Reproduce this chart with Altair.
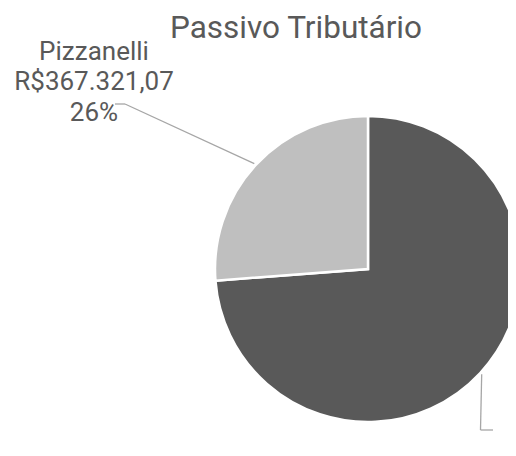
import altair as alt
import pandas as pd

# ---- data ----
categorias = ["Outros", "Pizzanelli"]
valores = [1034000.00, 367321.07]
titulo = "Passivo Tributário"

# ---- layout / style (view coordinates, page = view + 8) ----
CX, CY, R = 360, 261, 153
R_LINHA = 155
cores = ["#595959", "#BFBFBF"]
# only the Pizzanelli label lies inside the picture; the other one is off-canvas
rotulo_pos = {"Pizzanelli": (86, 51.5)}
cotovelo = {"Outros": (472.5, 422), "Pizzanelli": (117, 96)}
fim = {"Outros": (485, 422), "Pizzanelli": (107, 96)}
titulo_pos = (288, 30)


def brl(v):
    s = f"{v:,.2f}"
    return s.replace(",", "X").replace(".", ",").replace("X", ".")


total = sum(valores)
rows = []
for i, (c, v) in enumerate(zip(categorias, valores)):
    pct = v / total
    lx, ly = rotulo_pos.get(c, (-1000, -1000))
    rows.append(dict(
        categoria=c, valor=v, ordem=i,
        rotulo=f"{c}\nR${brl(v)}\n{round(pct * 100):.0f}%",
        visivel=c in rotulo_pos,
        lx=lx, ly=ly,
        ex=cotovelo[c][0], ey=cotovelo[c][1],
        fx=fim[c][0], fy=fim[c][1],
    ))
df = pd.DataFrame(rows)

base = alt.Chart(df)

pie = base.mark_arc(outerRadius=R, stroke="white", strokeWidth=2.5).encode(
    theta=alt.Theta("valor:Q", stack=True),
    color=alt.Color("categoria:N", scale=alt.Scale(domain=categorias, range=cores), legend=None),
    order=alt.Order("ordem:Q"),
    x=alt.value(CX),
    y=alt.value(CY),
)

linhas = base.transform_joinaggregate(
    total="sum(valor)"
).transform_window(
    cum="sum(valor)", sort=[alt.SortField(field="ordem", order="ascending")], frame=[None, 0]
).transform_calculate(
    meio="2*PI*(datum.cum - datum.valor/2)/datum.total",
).transform_calculate(
    sx=f"{CX} + {R_LINHA}*sin(datum.meio)",
    sy=f"{CY} - {R_LINHA}*cos(datum.meio)",
)

seg1 = linhas.mark_rule(color="#A6A6A6", strokeWidth=1.3).encode(
    x=alt.X("sx:Q", scale=None), y=alt.Y("sy:Q", scale=None),
    x2="ex:Q", y2="ey:Q",
)
seg2 = base.mark_rule(color="#A6A6A6", strokeWidth=1.3).encode(
    x=alt.X("ex:Q", scale=None), y=alt.Y("ey:Q", scale=None),
    x2="fx:Q", y2="fy:Q",
)

txt = base.transform_filter("datum.visivel").mark_text(
    font="Roboto", fontSize=26, color="#595959", lineHeight=30.5,
    align="center", baseline="alphabetic", lineBreak="\n",
).encode(
    x=alt.X("lx:Q", scale=None), y=alt.Y("ly:Q", scale=None), text="rotulo:N",
)

tit = alt.Chart(pd.DataFrame({"t": [titulo]})).mark_text(
    font="Roboto", fontSize=31.5, color="#595959", align="center", baseline="alphabetic",
).encode(x=alt.value(titulo_pos[0]), y=alt.value(titulo_pos[1]), text="t:N")

chart = alt.layer(pie, seg1, seg2, txt, tit).properties(
    width=500, height=440,
    autosize="none",
    padding=0,
).configure_view(strokeWidth=0)

chart.save("out.html", embed_options={"renderer": "svg", "actions": False})
